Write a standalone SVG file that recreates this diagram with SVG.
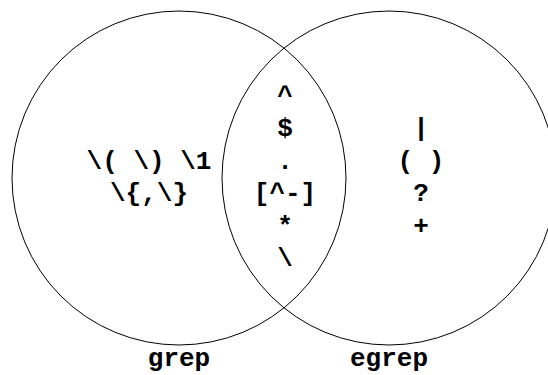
<svg xmlns="http://www.w3.org/2000/svg" width="548" height="375" viewBox="0 0 548 375">
<style>
.c{fill:none;stroke:#000;stroke-width:1}
.t{font-family:"Liberation Mono","Courier New",monospace;font-weight:bold;font-size:26px;fill:#000;text-anchor:middle}
</style>
<rect width="548" height="375" fill="#fff"/>
<g id="grep">
<circle class="c" cx="179" cy="178" r="167"/>
<text class="t" x="149" y="168.5" xml:space="preserve">\( \) \1</text>
<text class="t" x="149" y="201">\{,\}</text>
<text class="t" x="179" y="366">grep</text>
</g>
<g id="egrep">
<circle class="c" cx="389" cy="178" r="167"/>
<text class="t" x="421" y="136">|</text>
<text class="t" x="421" y="168.5" xml:space="preserve">( )</text>
<text class="t" x="421" y="201">?</text>
<text class="t" x="421" y="233.5">+</text>
<text class="t" x="389" y="366">egrep</text>
</g>
<g id="both">
<text class="t" x="285" y="103.5">^</text>
<text class="t" x="285" y="136">$</text>
<text class="t" x="285" y="168.5">.</text>
<text class="t" x="285" y="201">[^-]</text>
<text class="t" x="285" y="233.5">*</text>
<text class="t" x="285" y="266">\</text>
</g>
<g id="connectors"/>
</svg>
